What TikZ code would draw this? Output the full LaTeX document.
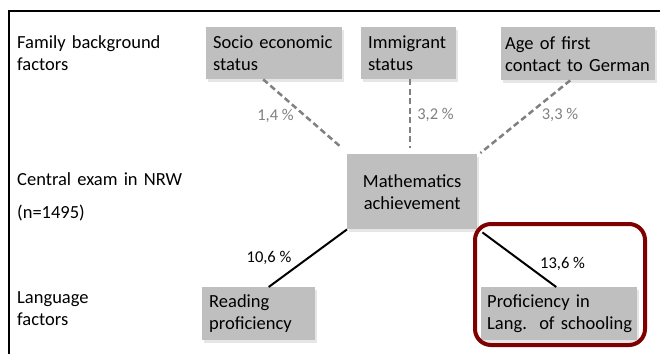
\documentclass[tikz,border=0pt]{standalone}
\usepackage{fontspec}
\setmainfont{Carlito}
\usetikzlibrary{shadows}
\hyphenpenalty=10000
\definecolor{boxgray}{HTML}{BFBFBF}
\definecolor{linegray}{HTML}{808080}
\definecolor{framered}{HTML}{7F0000}
\tikzset{
  rowlabel/.style={anchor=base west, inner sep=0pt, align=left, text width=170pt,
    font=\fontsize{18.5}{22}\selectfont},
  factor/.style={anchor=north west, fill=boxgray, align=left, inner xsep=7pt, inner ysep=0pt,
    font=\fontsize{18.5}{22}\selectfont,
    drop shadow={shadow xshift=2pt, shadow yshift=-2.5pt, opacity=.2}},
  share/.style={anchor=base, inner sep=0pt, font=\fontsize{16.5}{20}\selectfont},
  bgline/.style={draw=linegray, line width=2.5pt, dash pattern=on 6pt off 3.5pt},
  langline/.style={draw=black, line width=2pt}
}
\begin{document}
\begin{tikzpicture}[x=1pt,y=-1pt]
\useasboundingbox (0,0) rectangle (660,354);
\draw[line width=2pt] (660,11) -- (9,11) -- (9,354);
% row labels
\path
	(17,48) node[rowlabel] (familyrow) {Family background\\factors}
	(17,185) node[rowlabel] (examrow) {Central exam in NRW}
	(17,218) node[rowlabel] (samplerow) {(n=1495)}
	(17,303) node[rowlabel] (langrow) {Language\\factors};
% factor boxes
\path
	(206,27) node[factor, text width=122pt, minimum height=52pt] (ses) {Socio economic\\status}
	(361,27) node[factor, text width=81pt, minimum height=52pt] (immig) {Immigrant\\status}
	(501,27) node[factor, text width=146pt, inner xsep=4pt, minimum height=53pt] (agefirst) {Age of first\\contact to German}
	(347,154) node[factor, text width=116pt, align=center, minimum height=75pt] (math) {Mathematics\\achievement}
	(202,287) node[factor, text width=99pt, minimum height=53pt] (reading) {Reading\\proficiency}
	(481,287) node[factor, text width=150pt, inner xsep=3pt, minimum height=53pt] (langschool) {\hspace{3pt}Proficiency in\\\hspace{3pt}Lang.\ \ of schooling};
% connectors
\draw[bgline] ([xshift=-11pt]ses.south) -- ([shift={(-5pt,6pt)}]math.north west);
\draw[bgline] ([xshift=1.5pt]immig.south) -- ([shift={(1.5pt,6pt)}]immig.south |- math.north);
\draw[bgline] ([xshift=-8pt]agefirst.south) -- ([shift={(3pt,1pt)}]math.north east);
\draw[langline] ([xshift=10pt]reading.north) -- (math.south west);
\draw[langline] ([shift={(5pt,-3pt)}]math.south east) -- ([xshift=-3pt]langschool.north);
% shares
\path
	(275.5,120) node[share, text=linegray] (sesshare) {1,4 \%}
	(435.5,119) node[share, text=linegray] (immigshare) {3,2 \%}
	(560,119) node[share, text=linegray] (ageshare) {3,3 \%}
	(269,262) node[share] (readingshare) {10,6 \%}
	(562.5,268.5) node[share] (langshare) {13,6 \%};
\draw[framered, line width=4pt, rounded corners=16pt] (475,224) rectangle (645,345);
\end{tikzpicture}
\end{document}
